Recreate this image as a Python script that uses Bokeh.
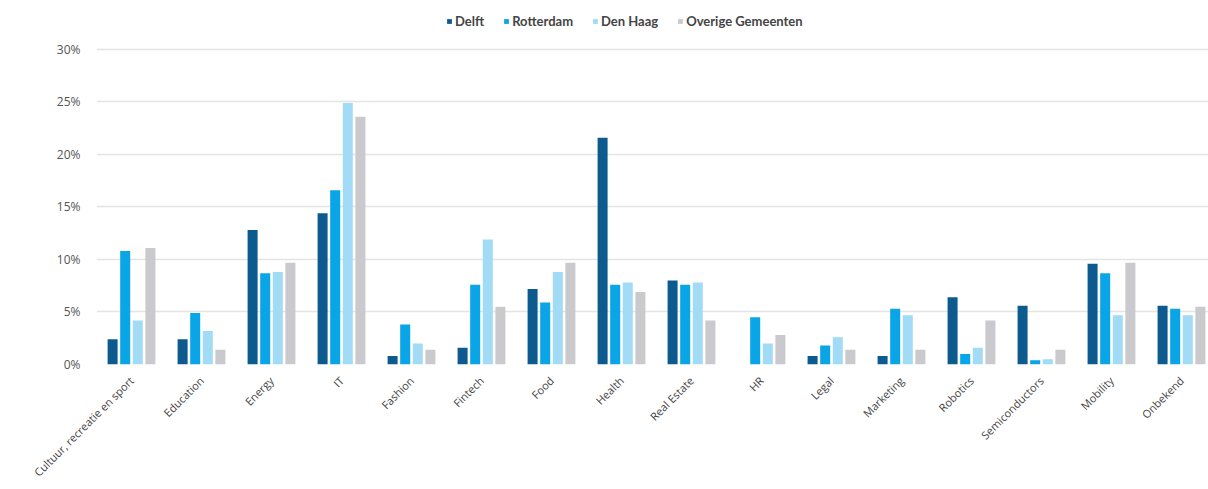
from bokeh.plotting import figure
from bokeh.models import ColumnDataSource, Range1d, FixedTicker, PrintfTickFormatter, Legend, LegendItem
from bokeh.transform import dodge
from bokeh.embed import file_html
from bokeh.resources import INLINE
import math

# Share of startups per sector (%) by municipality
sectors = ["Cultuur, recreatie en sport", "Education", "Energy", "IT", "Fashion", "Fintech",
           "Food", "Health", "Real Estate", "HR", "Legal", "Marketing", "Robotics",
           "Semiconductors", "Mobility", "Onbekend"]
delft = [2.4, 2.4, 12.8, 14.4, 0.8, 1.6, 7.2, 21.6, 8.0, 0.0, 0.8, 0.8, 6.4, 5.6, 9.6, 5.6]
rotterdam = [10.8, 4.9, 8.7, 16.6, 3.8, 7.6, 5.9, 7.6, 7.6, 4.5, 1.8, 5.3, 1.0, 0.4, 8.7, 5.3]
den_haag = [4.2, 3.2, 8.8, 24.9, 2.0, 11.9, 8.8, 7.8, 7.8, 2.0, 2.6, 4.7, 1.6, 0.5, 4.7, 4.7]
overige = [11.1, 1.4, 9.7, 23.6, 1.4, 5.5, 9.7, 6.9, 4.2, 2.8, 1.4, 1.4, 4.2, 1.4, 9.7, 5.5]
y_ticks = [0, 5, 10, 15, 20, 25, 30]

series = [("delft", "Delft", "#0d5b8e", -0.27),
          ("rotterdam", "Rotterdam", "#0aa5e6", -0.09),
          ("den_haag", "Den Haag", "#a2dbf5", 0.09),
          ("overige", "Overige Gemeenten", "#c9c9ce", 0.27)]

source = ColumnDataSource(dict(idx=list(range(len(sectors))), delft=delft, rotterdam=rotterdam,
                               den_haag=den_haag, overige=overige))

FONT = "Open Sans"

# the frame reaches up to the top edge so the legend can sit above the 30% line
p = figure(width=1208, height=489, output_backend="svg", toolbar_location=None,
           x_range=Range1d(-0.5, 15.386), y_range=Range1d(0, 34.19),
           min_border_left=96, min_border_right=0, min_border_top=5, min_border_bottom=125)
p.outline_line_color = None
p.background_fill_color = "white"
p.border_fill_color = "white"

items = []
for key, label, color, off in series:
    r = p.vbar(x=dodge("idx", off, range=p.x_range), top=key, width=0.143, source=source,
               fill_color=color, line_color=None)
    items.append(LegendItem(label=label, renderers=[r]))

# axes
p.xaxis.ticker = FixedTicker(ticks=list(range(len(sectors))))
p.xaxis.major_label_overrides = {i: s for i, s in enumerate(sectors)}
p.xaxis.major_label_orientation = math.pi / 4
p.xaxis.axis_line_color = None
p.xaxis.major_tick_line_color = None
p.xaxis.minor_tick_line_color = None
p.xaxis.major_label_text_font = FONT
p.xaxis.major_label_text_font_size = "11px"
p.xaxis.major_label_text_color = "#444444"
p.xaxis.major_label_standoff = 8

p.yaxis.ticker = FixedTicker(ticks=y_ticks)
p.yaxis.formatter = PrintfTickFormatter(format="%d%%")
p.yaxis.axis_line_color = None
p.yaxis.major_tick_line_color = None
p.yaxis.minor_tick_line_color = None
p.yaxis.major_label_text_font = FONT
p.yaxis.major_label_text_font_size = "12px"
p.yaxis.major_label_text_color = "#555555"
p.yaxis.major_label_standoff = 10

p.xgrid.grid_line_color = None
p.ygrid.grid_line_color = "#e4e4e4"
p.ygrid.grid_line_width = 1.5

legend = Legend(items=items, orientation="horizontal", location=(350, 335),
                glyph_width=6, glyph_height=6, label_standoff=3, spacing=19,
                label_text_font="Lato", label_text_font_style="bold",
                label_text_font_size="13px", label_text_color="#444444",
                border_line_color=None, background_fill_alpha=0, padding=0, margin=0)
p.add_layout(legend, "center")

open("out.html", "w").write(file_html(p, INLINE))
